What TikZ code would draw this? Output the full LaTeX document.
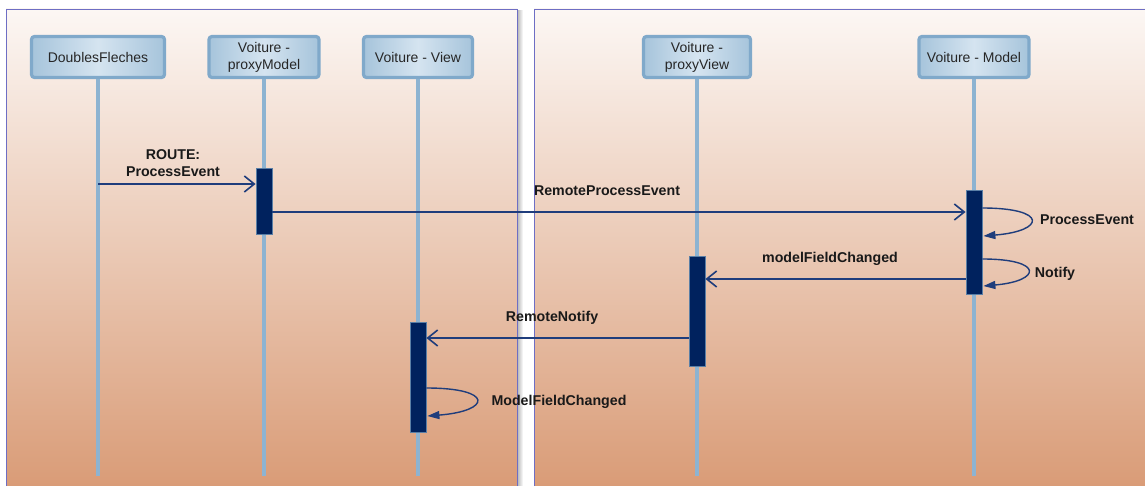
\documentclass[tikz,border=0pt]{standalone}
\usepackage{fontspec}
\setmainfont{Liberation Sans}
\usetikzlibrary{arrows.meta,calc}
\definecolor{panTop}{HTML}{FCF7F4}
\definecolor{panBot}{HTML}{D99B76}
\definecolor{panBorder}{HTML}{6E6EC4}
\definecolor{lifeC}{HTML}{8DB3D1}
\definecolor{actC}{HTML}{00225E}
\definecolor{actB}{HTML}{5A7FA6}
\definecolor{msgC}{HTML}{1F3D7C}
\definecolor{hdrB}{HTML}{80A9CA}
\definecolor{hdrL}{HTML}{A6C4DB}
\definecolor{hdrM}{HTML}{D5E4F0}
\begin{document}
\begin{tikzpicture}[x=1pt,y=-1pt,
  hdr/.style={draw=hdrB, line width=3.2pt, rounded corners=3pt, left color=hdrL, right color=hdrL, middle color=hdrM,
    align=center, font=\fontsize{14}{17}\selectfont, text=black!85, inner sep=0pt, minimum height=41pt},
  life/.style={draw=lifeC, line width=4pt},
  act/.style={draw=actB, line width=0.8pt, fill=actC, minimum width=16pt, inner sep=0pt},
  msg/.style={draw=msgC, line width=2pt, -{Straight Barb[length=10pt,width=16pt,line width=1.6pt]}},
  selfmsg/.style={draw=msgC, line width=1.4pt, -{Triangle[length=12pt,width=8pt]}},
  lbl/.style={font=\bfseries\fontsize{14.2}{17}\selectfont, text=black!90, align=center, inner sep=0pt, anchor=base}
]
\useasboundingbox (0,0) rectangle (1145,486);
\fill[white] (0,0) rectangle (1145,486);
% panels
\begin{scope}
  \clip (0,0) rectangle (1145,486);
  \shade[left color=black!30, right color=white] (517,11) rectangle (523,490);
  \shade[top color=panTop, bottom color=panBot] (6,9) rectangle (517,490);
  \draw[panBorder, line width=0.8pt] (6,490) -- (6,9) -- (517,9) -- (517,490);
  \shade[top color=panTop, bottom color=panBot] (534,9) rectangle (1150,490);
  \draw[panBorder, line width=0.8pt] (534,490) -- (534,9) -- (1150,9);
\end{scope}
% headers
\node[hdr, minimum width=133pt] (dfh) at (98,57) {DoublesFleches};
\node[hdr, minimum width=110pt] (pmh) at (264,57) {Voiture -\\proxyModel};
\node[hdr, minimum width=109pt] (vvh) at (418,57) {Voiture - View};
\node[hdr, minimum width=107pt] (pvh) at (697,57) {Voiture -\\proxyView};
\node[hdr, minimum width=110pt] (mdh) at (974,57) {Voiture - Model};
% lifelines
\foreach \h in {dfh,pmh,vvh,pvh,mdh}{
  \draw[life] (\h.south) -- (\h.south |- 0,476);
}
% activations
\node[act, minimum height=66pt] (actPM) at (pmh.south |- 0,201) {};
\node[act, minimum height=104pt] (actM) at (mdh.south |- 0,242) {};
\node[act, minimum height=110pt] (actPV) at (pvh.south |- 0,311) {};
\node[act, minimum height=110pt] (actV) at (vvh.south |- 0,377) {};
% messages
\draw[msg] (dfh.south |- 0,184) -- (actPM.west |- 0,184);
\node[lbl, anchor=north] (l1) at (173,149) {ROUTE:\\ProcessEvent};
\draw[msg] (actPM.east |- 0,212) -- (actM.west |- 0,212);
\node[lbl] (l2) at (607,196) {RemoteProcessEvent};
\draw[selfmsg] (actM.east |- 0,208) .. controls +(66,0) and +(62,-5) .. ($(actM.east |- 0,236)+(1,0)$);
\node[lbl] (l3) at (1087,225) {ProcessEvent};
\draw[selfmsg] (actM.east |- 0,259) .. controls +(62,0) and +(58,-5) .. ($(actM.east |- 0,286)+(1,0)$);
\node[lbl] (l4) at (1055,277) {Notify};
\draw[msg] (actM.west |- 0,279) -- (actPV.east |- 0,279);
\node[lbl] (l5) at (830,262) {modelFieldChanged};
\draw[msg] (actPV.west |- 0,338) -- (actV.east |- 0,338);
\node[lbl] (l6) at (552,321) {RemoteNotify};
\draw[selfmsg] (actV.east |- 0,388) .. controls +(68,0) and +(64,-5) .. ($(actV.east |- 0,416)+(1,0)$);
\node[lbl] (l7) at (559,405) {ModelFieldChanged};
\end{tikzpicture}
\end{document}
